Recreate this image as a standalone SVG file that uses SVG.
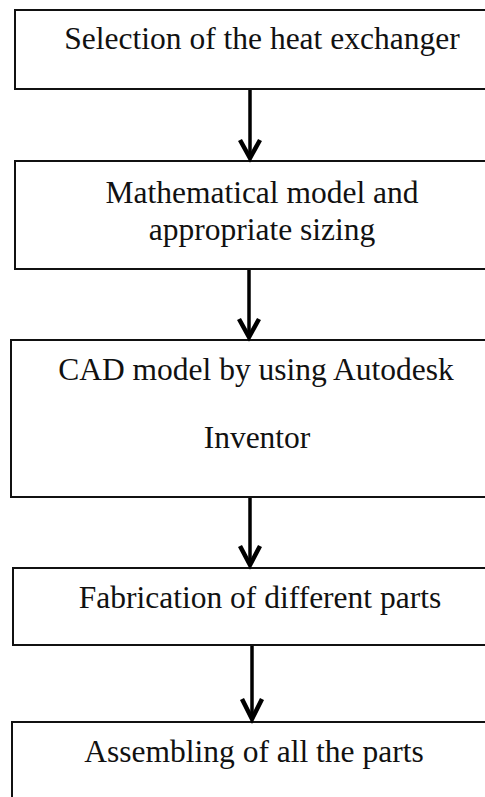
<svg xmlns="http://www.w3.org/2000/svg" width="485" height="797" viewBox="0 0 485 797">
<style>
.box{fill:#fff;stroke:#111;stroke-width:2}
.lbl{font-family:"Liberation Serif","Times New Roman",serif;font-size:31.5px;fill:#111;text-anchor:middle}
.shaft{stroke:#000;stroke-width:3.5;fill:none}
.head{stroke:#000;stroke-width:4.5;fill:none;stroke-linejoin:miter;stroke-linecap:butt}
</style>
<rect width="485" height="797" fill="#fff"/>
<g id="node1">
<rect class="box" x="15" y="10" width="480" height="79"/>
<text class="lbl" x="262" y="49">Selection of the heat exchanger</text>
</g>
<g id="node2">
<rect class="box" x="15" y="161" width="480" height="108"/>
<text class="lbl" x="262" y="203">Mathematical model and</text>
<text class="lbl" x="262" y="240">appropriate sizing</text>
</g>
<g id="node3">
<rect class="box" x="11" y="340" width="484" height="157"/>
<text class="lbl" x="256" y="380">CAD model by using Autodesk</text>
<text class="lbl" x="257" y="448">Inventor</text>
</g>
<g id="node4">
<rect class="box" x="13" y="568" width="482" height="77"/>
<text class="lbl" x="260" y="608">Fabrication of different parts</text>
</g>
<g id="node5">
<rect class="box" x="12" y="722" width="483" height="90"/>
<text class="lbl" x="254" y="762">Assembling of all the parts</text>
</g>
<g id="connectors">
<line class="shaft" x1="250" y1="90" x2="250" y2="158"/>
<polyline class="head" points="240,140 250,158 260,140"/>
<line class="shaft" x1="249" y1="270" x2="249" y2="337"/>
<polyline class="head" points="239,319 249,337 259,319"/>
<line class="shaft" x1="250" y1="498" x2="250" y2="565"/>
<polyline class="head" points="240,546 250,565 260,546"/>
<line class="shaft" x1="252" y1="646" x2="252" y2="719"/>
<polyline class="head" points="242,699 252,719 262,699"/>
</g>
</svg>
